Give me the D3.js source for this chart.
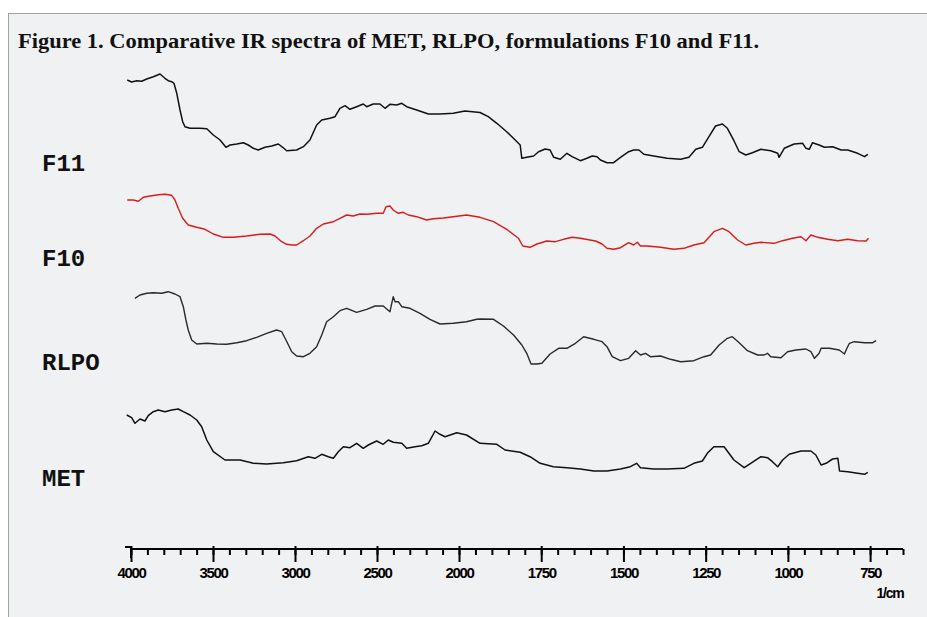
<!DOCTYPE html>
<html>
<head>
<meta charset="utf-8">
<script src="https://cdn.jsdelivr.net/npm/d3@7"></script>
<style>
  html, body { margin: 0; padding: 0; background: #fff; }
  svg { display: block; }
</style>
</head>
<body>
<div id="chart"></div>
<script>
// spectra as [wavenumber (1/cm), relative transmittance]
var F11 = [[4023,90],[3996,88],[3965,89.3],[3935,88.7],[3904,91],[3864,93.3],[3823,96],[3793,91.7],[3773,89.3],[3752,88.3],[3738,86.7],[3721,76.7],[3701,60],[3685,48.3],[3671,43.3],[3640,41.7],[3579,41.7],[3538,41.3],[3498,35],[3457,30],[3421,22.7],[3396,25],[3355,26],[3315,27.3],[3285,25],[3254,21.7],[3224,20],[3183,22.7],[3142,24],[3102,26],[3075,22.7],[3051,19.3],[2990,20],[2949,23.3],[2909,30],[2868,45],[2837,50],[2787,51.7],[2756,53.3],[2726,61.7],[2695,64.3],[2665,60.7],[2624,63.3],[2584,66],[2563,63.3],[2523,66],[2482,66],[2451,61.7],[2421,65.7],[2380,65],[2349,66.7],[2319,63.3],[2258,60],[2187,56],[2116,56],[2035,56.7],[1982,59],[1936,57.5],[1911,53.3],[1885,46.7],[1855,38.3],[1829,30],[1814,25],[1809,11.7],[1794,12.7],[1773,14],[1758,18.3],[1738,21],[1723,20],[1712,12.7],[1692,10.7],[1672,16.7],[1656,13.3],[1631,9.3],[1611,11.7],[1595,14],[1580,13.3],[1570,10],[1550,7.3],[1530,7.3],[1509,12.7],[1484,18.3],[1469,20],[1453,20],[1438,15.7],[1408,14],[1367,11.7],[1326,10.7],[1301,12.7],[1280,20.7],[1260,22.7],[1240,33.3],[1220,44],[1199,46],[1184,41.7],[1164,29.3],[1148,18.3],[1128,15],[1108,17.3],[1082,20.7],[1052,19.3],[1031,16.7],[1027,12.7],[1011,21.7],[981,26],[955,26.7],[945,21.7],[935,20.7],[925,27.3],[905,25],[889,22.7],[864,23.3],[838,20],[818,20],[788,16.7],[767,13.3],[757,15.7]];

var F10 = [[4023,62],[3986,62],[3955,60.7],[3925,64.7],[3884,66],[3834,67.3],[3793,67.7],[3752,66.7],[3732,62],[3712,53.7],[3685,43.7],[3651,37],[3599,34.7],[3549,32.7],[3498,28],[3437,24.7],[3376,24.7],[3295,26],[3213,27.7],[3152,28],[3122,26],[3081,20.3],[3051,17.7],[3020,17],[2990,17],[2949,21.3],[2909,26],[2868,33.7],[2827,38],[2766,40.3],[2726,43.7],[2685,47],[2645,46],[2604,48],[2563,47.7],[2502,48.7],[2462,48.7],[2445,55.3],[2421,56],[2401,52],[2370,48.7],[2340,49.7],[2309,47],[2258,45.3],[2197,42],[2157,43.3],[2096,44],[2035,45.3],[1977,47],[1936,44.7],[1895,40.3],[1855,32.7],[1819,23.7],[1806,16],[1784,14.7],[1763,18],[1733,21],[1707,20.3],[1682,22.7],[1656,24.7],[1631,23.7],[1585,21],[1565,18],[1550,13.7],[1530,12.7],[1509,14.3],[1484,19.3],[1469,17],[1458,19.7],[1448,16],[1428,16],[1387,14.7],[1347,12.7],[1316,13.7],[1286,17],[1255,19.3],[1225,30.3],[1199,33.7],[1179,30.3],[1153,22],[1128,17],[1103,18.7],[1082,19.7],[1042,18.7],[1016,21.3],[986,23.7],[960,25.3],[945,21.3],[930,27],[909,24.7],[879,22.7],[848,21.3],[818,22.7],[788,21.3],[762,21],[755,23.7]];

var RLPO = [[3976,76.7],[3945,80],[3904,81.7],[3864,82.3],[3813,81.7],[3773,83.3],[3732,81],[3701,78.3],[3681,68.3],[3665,55],[3651,45],[3630,35],[3599,31],[3538,31.7],[3477,31],[3416,30.7],[3355,32.3],[3295,34.3],[3234,37.7],[3173,41.7],[3112,45],[3081,43.3],[3055,35],[3020,23.3],[2990,19],[2949,18.3],[2909,21.7],[2868,28.3],[2837,40],[2807,53.3],[2766,58.3],[2726,64.3],[2685,66.7],[2624,62.7],[2563,65.7],[2512,69],[2462,69],[2421,63.3],[2401,78.3],[2390,73.3],[2370,73.3],[2349,68.3],[2299,66.7],[2238,61.7],[2177,55.7],[2116,51],[2035,51.7],[1977,53.3],[1946,55.7],[1936,56],[1895,55.7],[1865,49],[1834,40],[1809,30],[1794,21.7],[1781,11],[1763,11],[1748,11.7],[1723,21],[1697,26.7],[1672,26.7],[1646,31.7],[1621,38.3],[1590,35.7],[1565,33.3],[1550,28.3],[1534,18.3],[1509,14.3],[1484,16.7],[1463,24.3],[1448,20],[1433,21.7],[1418,18.3],[1387,19],[1357,15.7],[1326,13.3],[1286,14.3],[1255,18.3],[1235,20],[1209,30],[1184,36.7],[1169,38.3],[1148,32.3],[1123,24.3],[1092,20],[1072,20],[1062,21.7],[1052,18.3],[1021,17.3],[1001,23.3],[976,25],[945,26],[930,23.3],[919,16.7],[905,21.7],[899,26.7],[874,26.7],[844,25],[828,21],[823,25],[813,31.7],[798,33.3],[767,32.3],[742,32.3],[732,34.3]];

var MET = [[4026,70],[3996,67.3],[3976,61.7],[3945,66],[3915,64],[3895,69.3],[3864,73.3],[3834,75],[3793,73.3],[3752,75],[3712,76],[3681,73.3],[3640,70],[3599,65],[3569,58.3],[3538,45],[3498,33.3],[3427,25],[3335,25],[3254,21.7],[3173,21],[3071,22.3],[2990,24.3],[2919,28.3],[2878,26.7],[2837,30.7],[2797,28.3],[2766,26.7],[2736,33.3],[2705,38.3],[2665,37.3],[2624,41.7],[2584,36.7],[2553,40],[2502,44],[2462,40.7],[2431,45],[2401,42.7],[2349,41.7],[2319,36.7],[2268,38.3],[2227,39.3],[2187,41.7],[2146,54],[2116,50.7],[2085,48.3],[2014,52.3],[1977,50],[1936,41.7],[1885,40.7],[1860,35],[1814,32.7],[1784,28.3],[1753,21.7],[1713,18.3],[1672,17.3],[1631,16],[1590,14],[1550,14],[1509,16],[1479,18.3],[1460,21.7],[1448,17.3],[1408,16],[1367,16],[1316,16.7],[1286,21.7],[1260,24],[1245,31.7],[1225,38.3],[1194,38.3],[1164,25],[1133,17.3],[1113,21.7],[1082,28.3],[1062,27.3],[1047,23.3],[1031,18.3],[1016,25],[996,30.7],[960,34],[930,34],[915,30],[899,20],[884,21.7],[864,26],[848,26.7],[843,14],[818,13.3],[788,11.7],[767,10.7],[757,12.7]];

var seriesNames = ["F11", "F10", "RLPO", "MET"];
var majorTicks = [4000, 3500, 3000, 2500, 2000, 1750, 1500, 1250, 1000, 750];
var unitLabel = "1/cm";
var titleText = "Figure 1. Comparative IR spectra of MET, RLPO, formulations F10 and F11.";

var width = 927, height = 617;

var svg = d3.select("#chart").append("svg")
  .attr("width", width)
  .attr("height", height);

// panel box
svg.append("rect")
  .attr("x", 8.5).attr("y", 13.5)
  .attr("width", width).attr("height", height)
  .attr("fill", "#f0f1f3")
  .attr("stroke", "#a3a3a3")
  .attr("stroke-width", 1);

svg.append("text")
  .attr("x", 18).attr("y", 48)
  .attr("font-family", "'Liberation Serif', 'DejaVu Serif', serif")
  .attr("font-weight", "bold")
  .attr("font-size", 20)
  .attr("fill", "#111")
  .attr("textLength", 741)
  .attr("lengthAdjust", "spacingAndGlyphs")
  .text(titleText);

// x scale: compressed 4000-2000, expanded below 2000
var x = d3.scaleLinear()
  .domain([4000, 2000, 650])
  .range([131, 459, 903]);

var axisY = 549;

var minorTicks = d3.range(4000, 2000, -100).concat(d3.range(2000, 649, -50));

var gMinor = svg.append("g")
  .attr("transform", "translate(0," + axisY + ")")
  .call(d3.axisBottom(x).tickValues(minorTicks).tickSize(6).tickSizeOuter(0).tickFormat(""));
gMinor.select(".domain").remove();
gMinor.selectAll("line").attr("stroke", "#000").attr("stroke-width", 2);

var gMajor = svg.append("g")
  .attr("transform", "translate(0," + axisY + ")")
  .call(d3.axisBottom(x).tickValues(majorTicks).tickSize(13).tickSizeOuter(0).tickFormat(d3.format("d")));
gMajor.select(".domain").remove();
gMajor.selectAll("line").attr("stroke", "#000").attr("stroke-width", 2).attr("y1", -3);
gMajor.selectAll("text")
  .attr("y", 29)
  .attr("dy", 0)
  .attr("fill", "#000")
  .attr("font-family", "'Liberation Sans', Arial, sans-serif")
  .attr("font-weight", "bold")
  .attr("font-size", 15)
  .attr("letter-spacing", "-1.4px");

// axis baseline with the small hook at the left end
svg.append("path")
  .attr("d", "M" + (x(4000) - 6) + "," + (axisY - 2) + "H" + x(4000) + "V" + (axisY + 9)
    + "M" + x(4000) + "," + axisY + "H" + x(650))
  .attr("fill", "none")
  .attr("stroke", "#000")
  .attr("stroke-width", 2);

svg.append("text")
  .attr("x", 890).attr("y", 598)
  .attr("text-anchor", "middle")
  .attr("font-family", "'Liberation Sans', Arial, sans-serif")
  .attr("font-weight", "bold")
  .attr("font-size", 14)
  .attr("letter-spacing", "-1.2px")
  .text(unitLabel);

// each spectrum sits in its own band
var bands = [
  {name: "F11", data: F11, base: 170, color: "#111", w: 1.5, labelY: 171},
  {name: "F10", data: F10, base: 262, color: "#d81c1c", w: 1.4, labelY: 266},
  {name: "RLPO", data: RLPO, base: 375, color: "#2a2a2a", w: 1.4, labelY: 370},
  {name: "MET", data: MET, base: 485, color: "#111", w: 1.5, labelY: 486}
];

bands.forEach(function(b) {
  var y = d3.scaleLinear().domain([0, 100]).range([b.base, b.base - 100]);
  var line = d3.line()
    .x(function(d) { return x(d[0]); })
    .y(function(d) { return y(d[1]); });

  svg.append("path")
    .datum(b.data)
    .attr("fill", "none")
    .attr("stroke", b.color)
    .attr("stroke-width", b.w)
    .attr("stroke-linejoin", "round")
    .attr("d", line);

  svg.append("text")
    .attr("x", 42).attr("y", b.labelY)
    .attr("font-family", "'Liberation Mono', 'Courier New', monospace")
    .attr("font-weight", "bold")
    .attr("font-size", 24)
    .attr("fill", "#111")
    .text(b.name);
});
</script>
</body>
</html>
